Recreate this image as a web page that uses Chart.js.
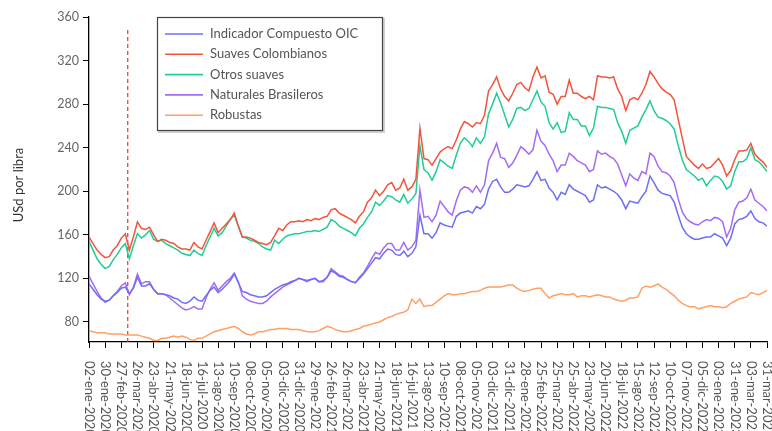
<!DOCTYPE html>
<html>
<head>
<meta charset="utf-8">
<script src="https://cdn.jsdelivr.net/npm/chart.js@4/dist/chart.umd.min.js"></script>
<style>
  html, body { margin: 0; padding: 0; background: #fff; }
  #wrap { width: 772px; height: 431px; }
</style>
</head>
<body>
<div id="wrap"><canvas id="c" width="772" height="431"></canvas></div>
<script>
// Weekly samples (every 5 trading days), 02-ene-2020 .. 31-mar-2023
const tickLabels = ['02-ene-2020','30-ene-2020','27-feb-2020','26-mar-2020','23-abr-2020','21-may-2020','18-jun-2020','16-jul-2020','13-ago-2020','10-sep-2020','08-oct-2020','05-nov-2020','03-dic-2020','31-dic-2020','29-ene-2021','26-feb-2021','26-mar-2021','23-abr-2021','21-may-2021','18-jun-2021','16-jul-2021','13-ago-2021','10-sep-2021','08-oct-2021','05-nov-2021','03-dic-2021','31-dic-2021','28-ene-2022','25-feb-2022','25-mar-2022','25-abr-2022','23-may-2022','20-jun-2022','18-jul-2022','15-ago-2022','12-sep-2022','10-oct-2022','07-nov-2022','05-dic-2022','03-ene-2023','31-ene-2023','03-mar-2023','31-mar-2023'];
const samplesPerTick = 4;

const seriesNames = ['Indicador Compuesto OIC','Suaves Colombianos','Otros suaves','Naturales Brasileros','Robustas'];
const seriesColors = ['#6e6ef6','#f2553c','#22cc96','#a46cf5','#ffa064'];

const indicadorOIC = [
 115,110,105,101,99,100,104,107,111,112,106,111,121,113,113,115,110,106,106,105,104,102,101,98,97,99,103,100,99,
 104,109,112,107,110,114,118,124,116,108,107,105,104,103,103,104,107,110,112,114,115,117,118,120,119,118,119,120,
 117,118,121,127,125,122,121,119,117,116,120,124,129,134,139,138,143,147,146,142,141,145,140,143,149,178,161,161,
 157,162,171,169,168,167,177,180,181,182,180,186,184,188,202,209,211,204,199,199,202,206,205,204,205,211,218,210,
 211,203,199,192,199,197,206,202,200,198,196,190,192,206,203,204,202,200,197,192,184,191,190,189,195,200,214,208,201,
 198,197,196,190,178,167,161,158,156,156,157,158,158,161,159,157,150,157,170,174,175,177,182,175,172,171,168];
const suavesColombianos = [
 158,152,146,142,139,140,146,150,157,161,146,158,172,166,165,167,160,154,156,155,153,152,149,147,147,146,153,149,147,
 155,163,171,162,166,170,174,180,168,158,158,157,155,153,152,151,153,159,166,164,169,172,172,173,172,174,173,175,
 174,176,177,183,184,180,178,176,174,171,177,181,190,194,201,196,200,206,208,201,203,211,201,204,211,258,230,229,
 224,230,236,239,241,239,247,257,264,262,259,263,262,270,292,298,305,294,287,283,290,298,300,295,292,305,314,304,
 306,291,289,280,287,287,302,290,290,287,285,287,284,306,305,305,304,305,294,287,274,284,286,284,290,298,310,305,299,
 294,291,289,284,266,249,232,228,224,221,225,221,222,226,230,224,214,219,229,237,237,238,244,234,230,227,222];
const otrosSuaves = [
 154,146,138,133,129,131,137,142,148,152,138,150,161,157,160,164,156,154,155,152,150,148,146,143,142,141,146,143,141,
 150,158,166,159,162,168,174,178,168,158,157,155,154,152,149,147,146,155,152,156,159,160,161,161,162,163,163,164,
 163,165,167,174,172,168,166,164,162,159,166,170,176,181,190,187,191,196,195,192,190,197,189,193,198,242,220,217,
 210,218,229,226,223,221,233,244,249,246,241,249,244,250,271,280,290,281,270,259,266,276,277,274,276,284,292,282,
 278,263,257,263,254,255,272,266,266,260,260,251,258,278,277,277,276,275,263,255,244,256,258,260,268,275,283,274,268,
 267,265,262,257,242,229,220,217,214,210,212,205,210,214,213,209,202,205,218,227,227,230,240,229,227,223,218];
const naturalesBrasileros = [
 122,115,108,102,98,100,104,108,113,116,105,112,124,115,117,117,110,106,106,105,102,99,96,93,91,92,94,92,92,
 102,110,116,109,113,117,120,125,117,104,101,99,98,97,97,99,103,106,109,112,114,116,118,120,119,117,119,120,
 117,117,121,129,126,123,122,119,117,116,121,125,131,138,144,142,148,152,152,146,146,153,146,149,155,201,176,177,
 172,178,191,186,181,178,191,201,204,203,199,205,199,206,228,235,244,231,230,222,226,233,241,238,234,238,256,246,
 242,234,228,218,224,224,235,232,228,226,224,218,220,237,234,235,232,230,225,215,205,216,212,210,218,216,235,232,223,
 218,217,214,208,193,181,175,172,170,169,172,174,173,176,175,172,158,166,183,190,191,194,202,192,189,186,182];
const robustas = [
 72,71,70,70,70,69,69,69,69,68,68,68,68,67,66,65,63,63,65,65,66,67,66,67,66,64,63,65,65,
 67,69,71,72,73,74,75,76,74,71,69,68,69,71,71,72,73,73,74,74,74,73,73,73,72,71,71,71,
 72,74,76,75,73,72,71,71,72,73,74,76,77,78,79,80,82,84,85,87,88,89,91,101,97,101,94,95,
 95,98,101,104,106,105,105,106,106,107,108,108,109,111,112,112,112,112,113,114,114,111,109,108,109,110,111,111,
 106,102,104,105,106,105,105,106,103,104,104,103,104,105,104,103,103,101,100,99,100,102,102,103,111,113,112,113,115,
 112,110,107,104,100,97,95,94,94,92,93,94,95,94,94,93,94,97,99,101,102,103,107,106,105,107,109];

// Event marker (declaración de pandemia, ~11-mar-2020), in sample units
const eventPosition = [9.6];
const eventRange = [61.6, 350];

const yTicks = [80,120,160,200,240,280,320,360];
const yMin = 61.6, yMax = 360;
const yTitle = 'USd por libra';

const allSeries = [indicadorOIC, suavesColombianos, otrosSuaves, naturalesBrasileros, robustas];
const FONT = 'Lato, "Open Sans", sans-serif';

const datasets = allSeries.map((arr, i) => ({
  label: seriesNames[i],
  data: arr.map((v, k) => ({x: k, y: v})),
  borderColor: seriesColors[i],
  backgroundColor: seriesColors[i],
  borderWidth: 1.5,
  pointRadius: 0,
  tension: 0,
  fill: false
}));
datasets.push({
  label: 'evento',
  data: eventRange.map(v => ({x: eventPosition[0], y: v})),
  borderColor: '#ee3030',
  borderWidth: 1.2,
  borderDash: [4, 3],
  pointRadius: 0,
  fill: false
});

const customDraw = {
  id: 'customDraw',
  afterDraw(chart) {
    const ctx = chart.ctx;
    const xs = chart.scales.x;
    // x tick labels rotated clockwise
    ctx.save();
    ctx.font = '13px ' + FONT;
    ctx.fillStyle = '#555';
    ctx.textAlign = 'left';
    ctx.textBaseline = 'middle';
    tickLabels.forEach((lab, i) => {
      const px = xs.getPixelForValue(i * samplesPerTick);
      ctx.save();
      ctx.translate(px, chart.chartArea.bottom + 19);
      ctx.rotate(Math.PI / 2);
      ctx.fillText(lab, 0, 0);
      ctx.restore();
    });
    ctx.restore();

    // y title
    ctx.save();
    ctx.font = '13px ' + FONT;
    ctx.fillStyle = '#333';
    ctx.textAlign = 'center';
    ctx.textBaseline = 'middle';
    ctx.translate(19, 185);
    ctx.rotate(-Math.PI / 2);
    ctx.fillText(yTitle, 0, 0);
    ctx.restore();

    // legend box
    const bx = 157.5, by = 17.5, bw = 225, bh = 113;
    ctx.save();
    ctx.strokeStyle = 'rgba(0,0,0,0.18)';
    ctx.lineWidth = 2;
    ctx.strokeRect(bx + 1.5, by + 1.5, bw, bh);
    ctx.fillStyle = '#fff';
    ctx.fillRect(bx, by, bw, bh);
    ctx.strokeStyle = '#444';
    ctx.lineWidth = 1.2;
    ctx.strokeRect(bx, by, bw, bh);
    ctx.font = '13px ' + FONT;
    ctx.textAlign = 'left';
    ctx.textBaseline = 'middle';
    seriesNames.forEach((name, i) => {
      const yy = 34 + i * 20.3;
      ctx.strokeStyle = seriesColors[i];
      ctx.lineWidth = 1.6;
      ctx.beginPath();
      ctx.moveTo(165, yy);
      ctx.lineTo(203, yy);
      ctx.stroke();
      ctx.fillStyle = '#555';
      ctx.fillText(name, 210, yy);
    });
    ctx.restore();
  }
};

new Chart(document.getElementById('c'), {
  type: 'line',
  data: { datasets },
  options: {
    responsive: false,
    animation: false,
    devicePixelRatio: 1,
    layout: { padding: { top: 17, right: 5, left: 0, bottom: 0 } },
    plugins: { legend: { display: false }, tooltip: { enabled: false } },
    scales: {
      x: {
        type: 'linear',
        min: 0,
        max: (tickLabels.length - 1) * samplesPerTick,
        afterBuildTicks(scale) {
          scale.ticks = tickLabels.map((_, i) => ({ value: i * samplesPerTick }));
        },
        afterFit(scale) { scale.height = 89; },
        ticks: { display: false },
        grid: { drawOnChartArea: false, drawTicks: true, tickLength: 6, color: '#000', lineWidth: 1 },
        border: { color: '#000', width: 1.3 }
      },
      y: {
        min: yMin,
        max: yMax,
        afterBuildTicks(scale) {
          scale.ticks = yTicks.map(v => ({ value: v }));
        },
        afterFit(scale) { scale.width = 89; },
        ticks: { color: '#666', font: { family: FONT, size: 12.5 }, padding: 4 },
        grid: { drawOnChartArea: false, drawTicks: true, tickLength: 6, color: '#000', lineWidth: 1 },
        border: { color: '#000', width: 1.3 }
      }
    }
  },
  plugins: [customDraw]
});
</script>
</body>
</html>
